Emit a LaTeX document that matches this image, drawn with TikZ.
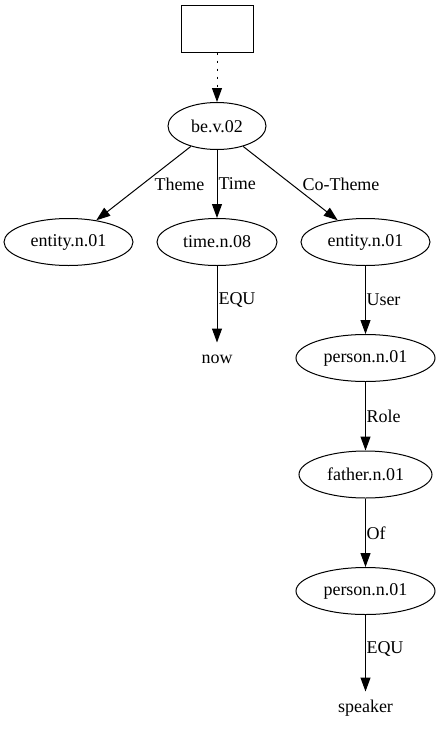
\documentclass[tikz,border=0pt]{standalone}
\usepackage{fontspec}
\setmainfont{Liberation Serif}
\usetikzlibrary{shapes.geometric,arrows.meta}
\begin{document}
\begin{tikzpicture}[x=1pt,y=-1pt,
  font=\fontsize{18}{21}\selectfont,
  every path/.style={line width=1pt},
  concept/.style={draw, ellipse, inner sep=0pt, minimum height=47pt},
  plain/.style={inner sep=0pt, minimum height=32pt, minimum width=40pt},
  rootbox/.style={draw, rectangle, inner sep=0pt, minimum width=72pt, minimum height=47pt},
  rel/.style={-{Triangle[length=14pt,width=10pt]}},
  lbl/.style={anchor=west, inner sep=0pt}
]
\useasboundingbox (0,0) rectangle (440,736);

% nodes
\node[rootbox] (box) at (217,28.5) {};
\node[concept, minimum width=98pt] (be) at (217,126) {be.v.02};
\node[concept, minimum width=129pt] (ent1) at (68.5,242) {entity.n.01};
\node[concept, minimum width=120pt] (time) at (217,242) {time.n.08};
\node[concept, minimum width=129pt] (ent2) at (365.5,242) {entity.n.01};
\node[plain] (now) at (217,359) {now};
\node[concept, minimum width=139pt] (pers1) at (365.5,358) {person.n.01};
\node[concept, minimum width=133pt] (father) at (365.5,474.5) {father.n.01};
\node[concept, minimum width=139pt] (pers2) at (365.5,591) {person.n.01};
\node[plain] (speaker) at (365.5,708) {speaker};

% connectors
\draw[rel, dash pattern=on 2pt off 6pt] (box) -- (be);
\draw[rel] (be) -- (ent1);
\draw[rel] (be) -- (time);
\draw[rel] (be) -- (ent2);
\draw[rel] (time) -- (now);
\draw[rel] (ent2) -- (pers1);
\draw[rel] (pers1) -- (father);
\draw[rel] (father) -- (pers2);
\draw[rel] (pers2) -- (speaker);

% edge labels
\node[lbl] (lTheme) at (154,184) {Theme};
\node[lbl] (lTime) at (218,184) {Time};
\node[lbl] (lCoTheme) at (302,184) {Co-Theme};
\node[lbl] (lEqu1) at (218,300) {EQU};
\node[lbl] (lUser) at (366,300) {User};
\node[lbl] (lRole) at (366,416) {Role};
\node[lbl] (lOf) at (366,533) {Of};
\node[lbl] (lEqu2) at (366,649) {EQU};
\end{tikzpicture}
\end{document}
